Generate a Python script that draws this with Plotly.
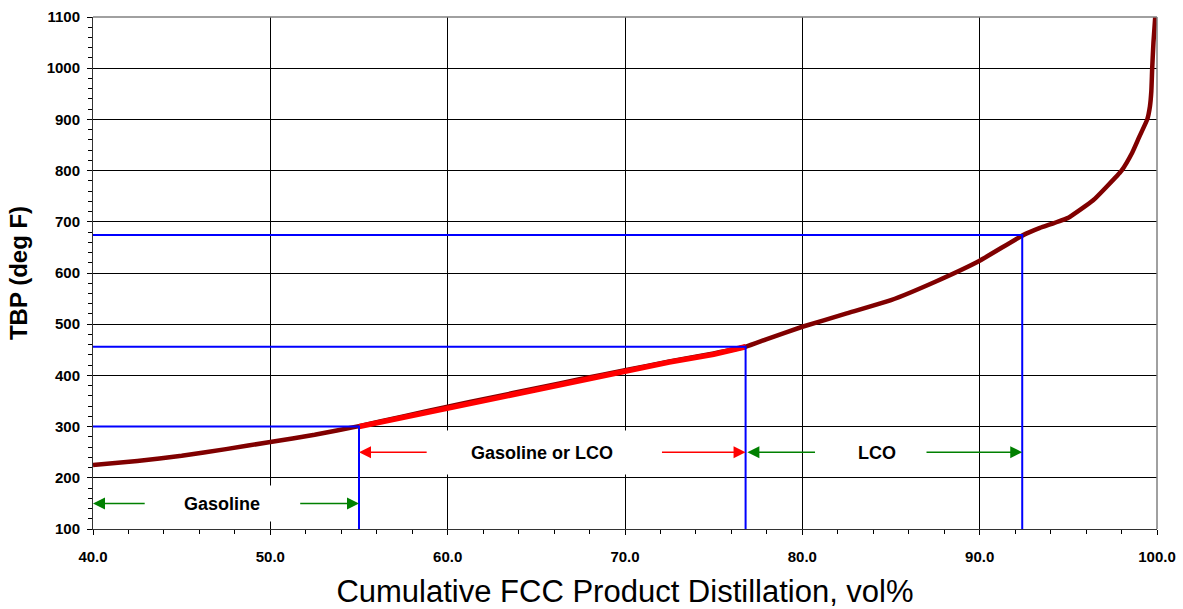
import plotly.graph_objects as go

# ---- data ----
curve_x = [40, 42.5, 45, 47.5, 50, 52.5, 55, 57.5, 60, 62.5, 65, 67.5, 70, 72.5, 75, 76.8,
           78, 80, 82.5, 85, 87.5, 90, 92.4, 93.4, 95.0, 96.4, 97.2, 98.0, 98.6, 99.0,
           99.45, 99.6, 99.68, 99.73, 99.8, 99.9]
curve_y = [225, 233, 243, 256, 270, 284, 301, 320, 339, 357, 375, 393, 410, 427, 443, 456,
           471, 495, 521, 547, 583, 624, 673, 688, 708, 742, 770, 800, 835, 866,
           900, 925, 955, 1000, 1050, 1100]

swing_x = [55, 57.5, 60, 62.5, 65, 67.5, 70, 72.5, 75, 76.8]
swing_y = [300, 318, 337, 355, 373, 391, 409, 426, 441, 456]

cut_x = [55, 76.8, 92.4]
cut_y = [300, 456, 674]

labels = ["Gasoline", "Gasoline or LCO", "LCO"]
label_x = [47.3, 65.3, 84.2]
label_y = [150, 250, 250]
label_w = [150, 228, 98]
label_h = [35, 43, 31]

# arrows: head x, tail x, y, colour
arrow_head_x = [40, 55, 55, 76.8, 76.9, 92.4]
arrow_tail_x = [43.0, 51.6, 58.9, 72.0, 80.8, 86.35]
arrow_y = [150, 150, 250, 250, 250, 250]
arrow_color = ["#008000", "#008000", "#FF0000", "#FF0000", "#008000", "#008000"]

FONT = "Arial, 'Liberation Sans', sans-serif"

fig = go.Figure()

fig.add_trace(go.Scatter(x=curve_x, y=curve_y, mode="lines",
                         line=dict(color="#800000", width=4.5, shape="spline", smoothing=0.4),
                         hoverinfo="skip"))
fig.add_trace(go.Scatter(x=swing_x, y=swing_y, mode="lines",
                         line=dict(color="#FF0000", width=5.5), hoverinfo="skip"))
for cx, cy in zip(cut_x, cut_y):
    fig.add_trace(go.Scatter(x=[40, cx, cx], y=[cy, cy, 100], mode="lines",
                             line=dict(color="#0000FF", width=2), hoverinfo="skip"))

annotations = []
for hx, tx, ay, col in zip(arrow_head_x, arrow_tail_x, arrow_y, arrow_color):
    annotations.append(dict(x=hx, y=ay, ax=tx, ay=ay, xref="x", yref="y", axref="x", ayref="y",
                            text="", showarrow=True, arrowhead=2, arrowsize=1.6,
                            arrowwidth=1.5, arrowcolor=col, standoff=0, startstandoff=0))
for t, lx, ly, w, h in zip(labels, label_x, label_y, label_w, label_h):
    annotations.append(dict(x=lx, y=ly, xref="x", yref="y", text="<b>%s</b>" % t,
                            showarrow=False, bgcolor="white", width=w, height=h,
                            borderpad=0, align="center", valign="middle",
                            font=dict(family=FONT, size=18, color="black")))

fig.update_layout(
    width=1183, height=609,
    margin=dict(l=93, r=26, t=17, b=80),
    plot_bgcolor="white", paper_bgcolor="white",
    showlegend=False,
    annotations=annotations,
    shapes=[
        dict(type="line", xref="paper", yref="paper", x0=0, x1=1, y0=1, y1=1,
             line=dict(color="#808080", width=1.5), layer="above"),
        dict(type="line", xref="paper", yref="paper", x0=1, x1=1, y0=0, y1=1,
             line=dict(color="#808080", width=1.5), layer="above"),
    ],
    xaxis=dict(
        range=[40, 100], tick0=40, dtick=10, tickformat=".1f", automargin=False,
        ticks="outside", ticklen=5, tickcolor="black", tickwidth=1,
        showline=True, linecolor="#333333", linewidth=1,
        showgrid=True, gridcolor="black", gridwidth=1, zeroline=False,
        minor=dict(dtick=2, ticks="outside", ticklen=4, tickcolor="black", showgrid=False),
        tickfont=dict(family=FONT, size=15, color="black", weight="bold"),
        ticklabelstandoff=9,
        title=dict(text="Cumulative FCC Product Distillation, vol%",
                   font=dict(family=FONT, size=31, color="black"), standoff=17),
    ),
    yaxis=dict(
        range=[100, 1100], tick0=100, dtick=100, automargin=False,
        ticks="outside", ticklen=5, tickcolor="black", tickwidth=1,
        showline=True, linecolor="#333333", linewidth=1,
        showgrid=True, gridcolor="black", gridwidth=1, zeroline=False,
        minor=dict(dtick=20, ticks="outside", ticklen=4, tickcolor="black", showgrid=False),
        tickfont=dict(family=FONT, size=15, color="black", weight="bold"),
        ticklabelstandoff=4,
        title=dict(text="<b>TBP (deg F)</b>",
                   font=dict(family=FONT, size=24, color="black"), standoff=12),
    ),
)

fig.write_html("out.html")
